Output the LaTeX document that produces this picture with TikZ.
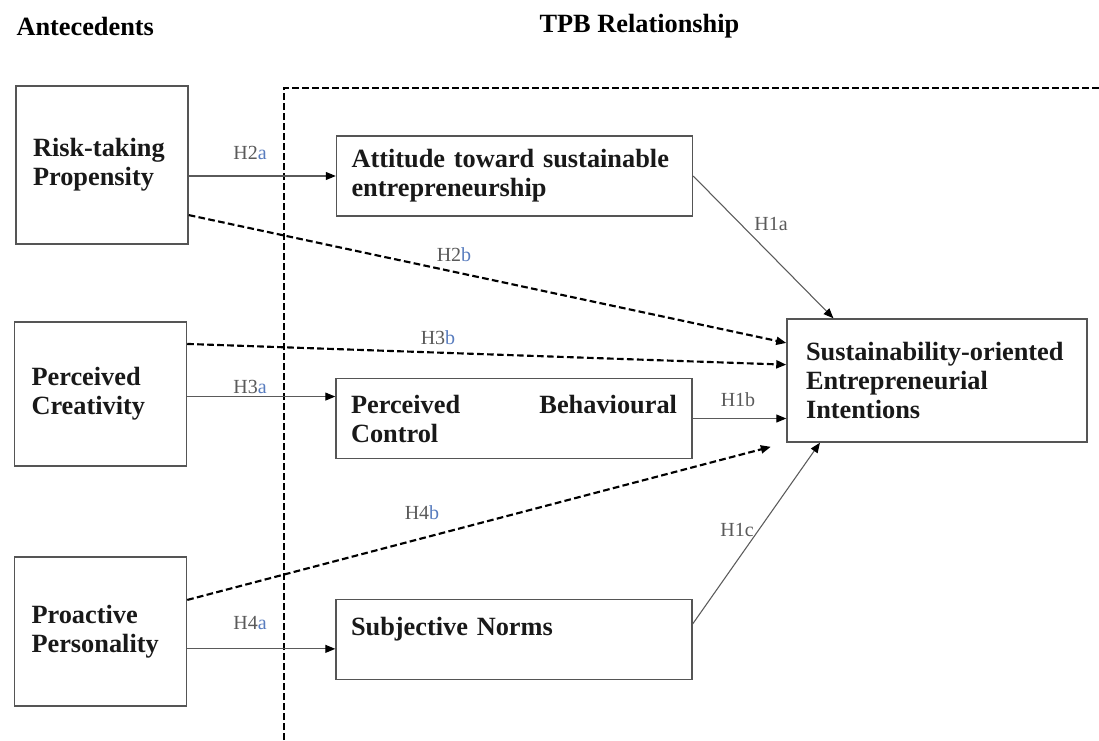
\documentclass[tikz,border=0pt]{standalone}
\usepackage{fontspec}
\setmainfont{Liberation Serif}
\usepackage{tikz}
\usetikzlibrary{arrows.meta}
\tikzset{every picture/.style={line width=0.75pt}}
\definecolor{boxgray}{RGB}{85,85,85}
\definecolor{hgray}{RGB}{90,90,90}
\definecolor{hblue}{RGB}{88,124,190}
\tikzset{
  bx/.style={draw=boxgray, line width=1.1pt, align=left, text=black!90,
    font=\bfseries\fontsize{19.75}{21.75}\selectfont},
  leftbx/.style={bx, text width=103.5pt, inner xsep=12.75pt},
  tpbbx/.style={bx, text width=244.5pt, inner xsep=11.25pt, minimum height=60pt},
  lbl/.style={text=hgray, inner sep=0.75pt, font=\fontsize{15}{18}\selectfont},
  hyp/.style={draw=hgray, line width=0.8pt, -{Triangle[length=7.5pt,width=6pt,color=black]}},
  hypd/.style={draw=black, line width=1.6pt, dash pattern=on 5pt off 2.5pt,
    -{Triangle[length=7.5pt,width=6pt]}},
}
\begin{document}
\begin{tikzpicture}[x=0.75pt,y=0.75pt,yscale=-1,xscale=1]
%set diagram left start at 0, and has height of 740
\useasboundingbox (0,0) rectangle (1099,740);

%Shape: Dashed frame
\draw [line width=1.7pt, dash pattern=on 5pt off 2.5pt] (284,740) -- (284,88) -- (1099,88) ;

% Text Node
\node (ante) [anchor=west, inner sep=0.75pt, font=\bfseries\fontsize{19.75}{21.75}\selectfont] at (15,26) {Antecedents};
% Text Node
\node (tpb) [anchor=west, inner sep=0.75pt, font=\bfseries\fontsize{19.75}{21.75}\selectfont] at (538,26) {TPB Relationship};

%Shape: Rectangle
\node (risk) [leftbx, minimum height=118.5pt] at (102,165) {Risk-taking\\Propensity};
%Shape: Rectangle
\node (crea) [leftbx, minimum height=108pt] at (100.5,394) {Perceived\\Creativity};
%Shape: Rectangle
\node (proa) [leftbx, minimum height=111.75pt] at (100.5,631.5) {Proactive\\Personality};
%Shape: Rectangle
\node (att) [tpbbx] at (514.5,176) {Attitude toward sustainable\\entrepreneurship};
%Shape: Rectangle
\node (pbc) [tpbbx] at (514,418.5) {Perceived\hfill Behavioural\\Control};
%Shape: Rectangle
\node (sn) [tpbbx, text depth=20pt] at (514,639.5) {Subjective Norms};
%Shape: Rectangle
\node (soei) [bx, text width=196.5pt, inner xsep=14.25pt, minimum height=92.25pt] at (937,380.5) {Sustainability-oriented\\Entrepreneurial\\Intentions};

%Straight Lines
\draw [hyp] (att.west -| risk.east) -- (att.west) ;
\draw [hyp] (crea.east |- pbc.173) -- (pbc.173) ;
\draw [hyp] (proa.east |- sn.183) -- (sn.183) ;
\draw [hyp] (att.east) -- (soei.149) ;
\draw [hyp] (pbc.east) -- (pbc.east -| soei.west) ;
\draw [hyp] (sn.5) -- (soei.208) ;
%Dashed Lines
\draw [hypd] (risk.-30) -- (soei.166) ;
\draw [hypd] (crea.30) -- (soei.174) ;
\draw [hypd, shorten >=12pt] (proa.20) -- (soei.south west) ;

% Text Node
\node (lh2a) [lbl] at (250,153) {H2\textcolor{hblue}{a}};
% Text Node
\node (lh2b) [lbl] at (454,255) {H2\textcolor{hblue}{b}};
% Text Node
\node (lh3b) [lbl] at (438,338) {H3\textcolor{hblue}{b}};
% Text Node
\node (lh3a) [lbl] at (250,387) {H3\textcolor{hblue}{a}};
% Text Node
\node (lh4b) [lbl] at (422,513) {H4\textcolor{hblue}{b}};
% Text Node
\node (lh4a) [lbl] at (250,623) {H4\textcolor{hblue}{a}};
% Text Node
\node (lh1a) [lbl] at (771,224) {H1a};
% Text Node
\node (lh1b) [lbl] at (738,400) {H1b};
% Text Node
\node (lh1c) [lbl] at (737,530) {H1c};
\end{tikzpicture}
\end{document}
